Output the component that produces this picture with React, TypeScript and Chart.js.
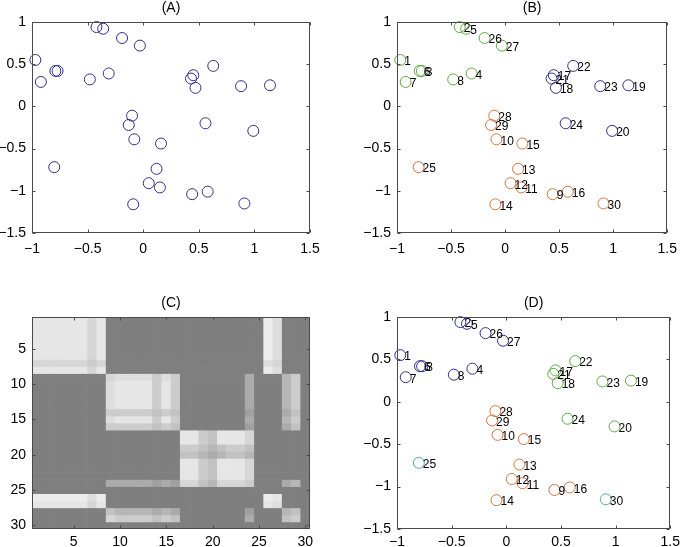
import React, { useEffect, useRef } from 'react';
import { Chart, registerables } from 'chart.js';

Chart.register(...registerables);

// ---- scatter data (points 1..30) ----
const pointIds = [1, 2, 3, 4, 5, 6, 7, 8, 9, 10, 11, 12, 13, 14, 15, 16, 17, 18, 19, 20, 21, 22, 23, 24, 25, 26, 27, 28, 29, 30];
const pointX = [-0.97, -0.42, -0.77, -0.31, -0.36, -0.79, -0.92, -0.48, 0.44, -0.08, 0.15, 0.05, 0.12, -0.09, 0.16, 0.58, 0.45, 0.47, 1.14, 0.99, 0.43, 0.63, 0.88, 0.56, -0.8, -0.19, -0.03, -0.1, -0.13, 0.91];
const pointY = [0.55, 0.94, 0.42, 0.39, 0.92, 0.42, 0.29, 0.32, -1.04, -0.39, -0.96, -0.91, -0.74, -1.16, -0.44, -1.01, 0.37, 0.22, 0.25, -0.29, 0.33, 0.48, 0.24, -0.2, -0.72, 0.81, 0.72, -0.11, -0.22, -1.15];

// cluster ids: 0 navy, 1 green, 2 orange, 3 teal
const clusterA = [0, 0, 0, 0, 0, 0, 0, 0, 0, 0, 0, 0, 0, 0, 0, 0, 0, 0, 0, 0, 0, 0, 0, 0, 0, 0, 0, 0, 0, 0];
const clusterB = [1, 1, 1, 1, 1, 1, 1, 1, 2, 2, 2, 2, 2, 2, 2, 2, 0, 0, 0, 0, 0, 0, 0, 0, 2, 1, 1, 2, 2, 2];
const clusterD = [0, 0, 0, 0, 0, 0, 0, 0, 2, 2, 2, 2, 2, 2, 2, 2, 1, 1, 1, 1, 1, 1, 1, 1, 3, 0, 0, 2, 2, 3];
const clusterColors = ['#30308c', '#62a845', '#d4733f', '#55a8a8'];

const scatterXTicks = [-1, -0.5, 0, 0.5, 1, 1.5];
const scatterYTicks = [-1.5, -1, -0.5, 0, 0.5, 1];

// ---- heatmap data (30x30, shade codes per cell) ----
const heatLabels = ['1', '2', '3', '4', '5', '6', '7', '8', '9', '10', '11', '12', '13', '14', '15', '16', '17', '18', '19', '20', '21', '22', '23', '24', '25', '26', '27', '28', '29', '30'];
const heatTicks = [5, 10, 15, 20, 25, 30];
const heatShades: Record<string, string> = {
  '0': '#7f7f7f', '1': '#a0a0a0', '2': '#ababab', '3': '#b6b6b6', '4': '#c2c2c2',
  '5': '#cccccc', '6': '#d6d6d6', '7': '#dedede', '8': '#e6e6e6', '9': '#ececec',
};
const heatRows = [
  '88888868 00000000 00000000 0 97 000',
  '88888868 00000000 00000000 0 97 000',
  '88888868 00000000 00000000 0 97 000',
  '88888868 00000000 00000000 0 97 000',
  '88888868 00000000 00000000 0 97 000',
  '88888868 00000000 00000000 0 97 000',
  '66666656 00000000 00000000 0 76 000',
  '88888868 00000000 00000000 0 97 000',
  '00000000 67777575 00000002 0 00 350',
  '00000000 78888585 00000002 0 00 350',
  '00000000 78888585 00000002 0 00 350',
  '00000000 78888585 00000002 0 00 350',
  '00000000 78888585 00000002 0 00 350',
  '00000000 55555454 00000001 0 00 240',
  '00000000 78888585 00000002 0 00 350',
  '00000000 55555454 00000001 0 00 240',
  '00000000 00000000 88548886 0 00 000',
  '00000000 00000000 88548886 0 00 000',
  '00000000 00000000 55434554 0 00 000',
  '00000000 00000000 44323443 0 00 000',
  '00000000 00000000 88548886 0 00 000',
  '00000000 00000000 88548886 0 00 000',
  '00000000 00000000 88548886 0 00 000',
  '00000000 22222121 66436665 0 00 230',
  '00000000 00000000 00000000 0 00 000',
  '99999979 00000000 00000000 0 98 000',
  '88888868 00000000 00000000 0 87 000',
  '00000000 43333232 00000001 0 00 340',
  '00000000 65555454 00000002 0 00 450',
  '00000000 00000000 00000000 0 00 000',
];

const FONT = '"Liberation Sans", Arial, Helvetica, sans-serif';
const frameColor = '#4a4a4a';

const fmt = (v: any) => {
  const n = Number(v);
  return n < 0 ? '\u2212' + String(-n) : String(n);
};

const framePlugin = {
  id: 'frame',
  afterDraw(chart: any, _args: any, opts: any) {
    const { ctx, chartArea: a, scales } = chart;
    const L = Math.round(a.left) + 0.5;
    const R = Math.round(a.right) - 0.5;
    const T = Math.round(a.top) + 0.5;
    const B = Math.round(a.bottom) - 0.5;
    ctx.save();
    ctx.strokeStyle = frameColor;
    ctx.lineWidth = 1;
    ctx.strokeRect(L, T, R - L, B - T);
    const tl = 3;
    ctx.beginPath();
    (opts.xt || []).forEach((v: number) => {
      const px = Math.round(scales.x.getPixelForValue(v)) + 0.5;
      ctx.moveTo(px, B); ctx.lineTo(px, B - tl);
      ctx.moveTo(px, T); ctx.lineTo(px, T + tl);
    });
    (opts.yt || []).forEach((v: number) => {
      const py = Math.round(scales.y.getPixelForValue(v)) + 0.5;
      ctx.moveTo(L, py); ctx.lineTo(L + tl, py);
      ctx.moveTo(R, py); ctx.lineTo(R - tl, py);
    });
    ctx.stroke();
    if (opts.title) {
      ctx.fillStyle = '#000';
      ctx.font = `14px ${FONT}`;
      ctx.textAlign = 'center';
      ctx.textBaseline = 'middle';
      ctx.fillText(opts.title, (a.left + a.right) / 2, a.top - 14);
    }
    ctx.restore();
  },
};

const pointLabelPlugin = {
  id: 'pointLabels',
  afterDatasetsDraw(chart: any, _args: any, opts: any) {
    if (!opts || !opts.show) return;
    const { ctx } = chart;
    ctx.save();
    ctx.fillStyle = '#000';
    ctx.font = `12px ${FONT}`;
    ctx.textAlign = 'left';
    ctx.textBaseline = 'middle';
    chart.data.datasets.forEach((ds: any, di: number) => {
      const meta = chart.getDatasetMeta(di);
      meta.data.forEach((el: any, i: number) => {
        ctx.fillText(String(ds.data[i].n), el.x + 4, el.y + 2);
      });
    });
    ctx.restore();
  },
};

const tickFont = { family: FONT, size: 14 };

function makeScatter(title: string, clusters: number[], showLabels: boolean, yWidth: number, padRight: number, padTop: number, xHeight: number, xPad: number) {
  const datasets = clusterColors.map((color, ci) => ({
    label: 'c' + ci,
    data: pointIds
      .map((n, i) => ({ x: pointX[i], y: pointY[i], n }))
      .filter((_p, i) => clusters[i] === ci),
    borderColor: color,
    backgroundColor: 'rgba(0,0,0,0)',
    pointRadius: 5.5,
    pointBorderWidth: 1,
    pointStyle: 'circle',
    showLine: false,
    clip: false as any,
  })).filter((d) => d.data.length > 0);
  return {
    type: 'scatter',
    data: { datasets },
    options: {
      animation: false,
      responsive: false,
      events: [],
      layout: { padding: { left: 0, top: padTop, right: padRight, bottom: 0 } },
      plugins: {
        legend: { display: false },
        tooltip: { enabled: false },
        frame: { title, xt: scatterXTicks, yt: scatterYTicks },
        pointLabels: { show: showLabels },
      },
      scales: {
        x: {
          type: 'linear', min: -1, max: 1.5,
          afterBuildTicks: (s: any) => { s.ticks = scatterXTicks.map((v) => ({ value: v })); },
          afterFit: (s: any) => { s.height = xHeight; },
          grid: { display: false, drawTicks: false },
          border: { display: false },
          ticks: { callback: fmt, font: tickFont, color: '#000', padding: xPad, maxRotation: 0, autoSkip: false },
        },
        y: {
          type: 'linear', min: -1.5, max: 1,
          afterBuildTicks: (s: any) => { s.ticks = scatterYTicks.map((v) => ({ value: v })); },
          afterFit: (s: any) => { s.width = yWidth; },
          grid: { display: false, drawTicks: false },
          border: { display: false },
          ticks: { callback: fmt, font: tickFont, color: '#000', padding: 6, autoSkip: false },
        },
      },
    },
    plugins: [framePlugin, pointLabelPlugin],
  };
}

function makeHeat() {
  const datasets = heatRows.map((row, r) => {
    const cells = row.replace(/ /g, '').split('');
    return {
      label: 'row' + (r + 1),
      data: cells.map(() => [r + 0.5, r + 1.5]),
      backgroundColor: cells.map((c) => heatShades[c]),
      borderWidth: 0,
      barPercentage: 1,
      categoryPercentage: 1,
      grouped: false,
    };
  });
  return {
    type: 'bar',
    data: { labels: heatLabels, datasets },
    options: {
      animation: false,
      responsive: false,
      events: [],
      indexAxis: 'x',
      layout: { padding: { left: 0, top: 47, right: 30, bottom: 0 } },
      plugins: {
        legend: { display: false },
        tooltip: { enabled: false },
        frame: { title: '(C)', xt: heatTicks.map((v) => v - 1), yt: heatTicks },
      },
      scales: {
        x: {
          type: 'category', offset: true,
          afterFit: (s: any) => { s.height = 18; },
          grid: { display: false, drawTicks: false },
          border: { display: false },
          ticks: {
            callback: (_v: any, i: number) => (heatTicks.includes(i + 1) ? heatLabels[i] : ''),
            font: tickFont, color: '#000', padding: 5, maxRotation: 0, minRotation: 0, autoSkip: false,
          },
        },
        y: {
          type: 'linear', reverse: true, min: 0.5, max: 30.5,
          afterBuildTicks: (s: any) => { s.ticks = heatTicks.map((v) => ({ value: v })); },
          afterFit: (s: any) => { s.width = 32; },
          grid: { display: false, drawTicks: false },
          border: { display: false },
          ticks: { font: tickFont, color: '#000', padding: 6, autoSkip: false },
        },
      },
    },
    plugins: [framePlugin],
  };
}

function Panel({ left, top, width, height, make }: { left: number; top: number; width: number; height: number; make: () => any }) {
  const ref = useRef<HTMLCanvasElement>(null);
  useEffect(() => {
    if (!ref.current) return;
    const chart = new Chart(ref.current, make());
    return () => chart.destroy();
  }, []);
  return (
    <canvas
      ref={ref}
      width={width}
      height={height}
      style={{ position: 'absolute', left, top, width, height }}
    />
  );
}

export default function App() {
  return (
    <div style={{ position: 'absolute', left: 0, top: 0, width: 685, height: 547, background: '#fff', overflow: 'hidden' }}>
      <Panel left={0} top={0} width={340} height={270} make={() => makeScatter('(A)', clusterA, false, 32, 30, 22, 37, 8)} />
      <Panel left={340} top={0} width={345} height={270} make={() => makeScatter('(B)', clusterB, true, 57, 12, 22, 37, 8)} />
      <Panel left={0} top={270} width={340} height={277} make={makeHeat} />
      <Panel left={340} top={270} width={345} height={277} make={() => makeScatter('(D)', clusterD, true, 57, 12, 47, 18, 5)} />
    </div>
  );
}
